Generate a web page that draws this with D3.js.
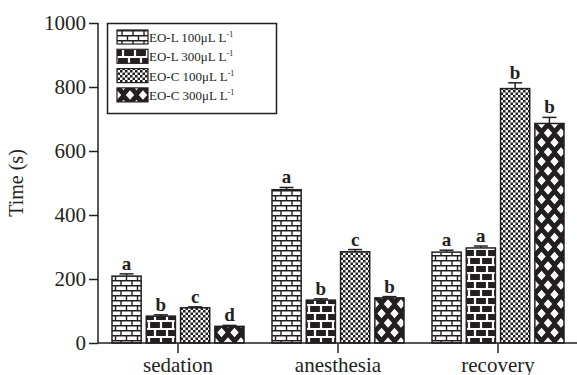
<!DOCTYPE html>
<html>
<head>
<meta charset="utf-8">
<script src="https://cdn.jsdelivr.net/npm/d3@7/dist/d3.min.js"></script>
<style>
  html, body { margin: 0; padding: 0; background: #fff; }
  svg { display: block; }
  text { font-family: "Liberation Serif", "Times New Roman", serif; fill: #231f20; }
</style>
</head>
<body>
<svg id="chart" width="577" height="375"></svg>
<script>
// Phases measured and treatments compared
const categories = ["sedation", "anesthesia", "recovery"];
const seriesNames = ["EO-L 100μL L", "EO-L 300μL L", "EO-C 100μL L", "EO-C 300μL L"];

// Mean time (s) per phase, one array per treatment
const eoL100 = [209, 479, 284];
const eoL300 = [84, 134, 297];
const eoC100 = [110, 285, 795];
const eoC300 = [52, 141, 686];

// Standard errors (upper whisker only)
const errL100 = [7, 7, 6];
const errL300 = [4, 4, 6];
const errC100 = [3, 7, 18];
const errC300 = [3, 4, 19];

// Significance letters
const letL100 = ["a", "a", "a"];
const letL300 = ["b", "b", "a"];
const letC100 = ["c", "c", "b"];
const letC300 = ["d", "b", "b"];

const yTicks = [0, 200, 400, 600, 800, 1000];

const series = [
  { name: seriesNames[0], values: eoL100, err: errL100, letters: letL100, fill: "url(#brickWhite)" },
  { name: seriesNames[1], values: eoL300, err: errL300, letters: letL300, fill: "url(#brickBlack)" },
  { name: seriesNames[2], values: eoC100, err: errC100, letters: letC100, fill: "url(#checker)" },
  { name: seriesNames[3], values: eoC300, err: errC300, letters: letC300, fill: "url(#lattice)" }
];

const ink = "#231f20";
const svg = d3.select("#chart");

// ---- fill patterns ----
const defs = svg.append("defs");

// white bricks, black mortar
const p1 = defs.append("pattern").attr("id", "brickWhite")
  .attr("patternUnits", "userSpaceOnUse").attr("width", 11).attr("height", 10);
p1.append("rect").attr("width", 11).attr("height", 10).attr("fill", "#fff");
p1.append("path").attr("stroke", ink).attr("stroke-width", 1.4).attr("fill", "none")
  .attr("d", "M0,0.7H11 M0,5.7H11 M1,0.7V5.7 M6.5,5.7V10.7");

// black bricks, white mortar
const p2 = defs.append("pattern").attr("id", "brickBlack")
  .attr("patternUnits", "userSpaceOnUse").attr("width", 12).attr("height", 16);
p2.append("rect").attr("width", 12).attr("height", 16).attr("fill", ink);
p2.append("path").attr("stroke", "#fff").attr("stroke-width", 2.2).attr("fill", "none")
  .attr("d", "M0,1H12 M0,9H12 M3,1V9 M9,9V17");

// fine checkerboard
const p3 = defs.append("pattern").attr("id", "checker")
  .attr("patternUnits", "userSpaceOnUse").attr("width", 5).attr("height", 5);
p3.append("rect").attr("width", 5).attr("height", 5).attr("fill", "#fff");
p3.append("rect").attr("width", 2.5).attr("height", 2.5).attr("fill", ink);
p3.append("rect").attr("x", 2.5).attr("y", 2.5).attr("width", 2.5).attr("height", 2.5).attr("fill", ink);

// black lattice with white diamonds
const p4 = defs.append("pattern").attr("id", "lattice")
  .attr("patternUnits", "userSpaceOnUse").attr("width", 13).attr("height", 19);
p4.append("rect").attr("width", 13).attr("height", 19).attr("fill", ink);
const diamond = (cx, cy) => `M${cx},${cy - 4.8}L${cx + 4.2},${cy}L${cx},${cy + 4.8}L${cx - 4.2},${cy}Z`;
p4.append("path").attr("fill", "#fff")
  .attr("d", [diamond(0, 0), diamond(13, 0), diamond(0, 19), diamond(13, 19), diamond(6.5, 9.5)].join(""));

// ---- scales ----
const x0 = d3.scaleBand().domain(categories).range([98, 578]);
const x1 = d3.scaleBand().domain(d3.range(series.length)).range([14, 146]).paddingInner(0.15);
const y = d3.scaleLinear().domain([0, 1000]).range([343, 23]);

// ---- bars ----
const groups = svg.append("g").selectAll("g").data(categories).join("g")
  .attr("transform", d => `translate(${x0(d)},0)`);

groups.each(function (cat, ci) {
  const g = d3.select(this);
  series.forEach((s, si) => {
    const v = s.values[ci], e = s.err[ci];
    const bx = x1(si), bw = x1.bandwidth();
    const cx = bx + bw / 2;
    g.append("rect")
      .attr("x", bx).attr("y", y(v))
      .attr("width", bw).attr("height", y(0) - y(v))
      .attr("fill", s.fill).attr("stroke", ink).attr("stroke-width", 1.5);
    // error whisker
    g.append("line").attr("x1", cx).attr("x2", cx).attr("y1", y(v)).attr("y2", y(v + e))
      .attr("stroke", ink).attr("stroke-width", 1.5);
    g.append("line").attr("x1", cx - 7).attr("x2", cx + 7).attr("y1", y(v + e)).attr("y2", y(v + e))
      .attr("stroke", ink).attr("stroke-width", 1.5);
    // letter
    g.append("text").attr("x", cx).attr("y", y(v + e) - 4)
      .attr("text-anchor", "middle").attr("font-size", 19).attr("font-weight", "bold")
      .text(s.letters[ci]);
  });
});

// ---- axes ----
const yAxis = svg.append("g").attr("transform", "translate(98,0)")
  .call(d3.axisLeft(y).tickValues(yTicks).tickSize(9).tickPadding(3).tickFormat(d3.format("d")));
yAxis.select(".domain").attr("stroke", ink).attr("stroke-width", 1.5).attr("d", "M0,23V343");
yAxis.selectAll(".tick line").attr("stroke", ink).attr("stroke-width", 1.5);
yAxis.selectAll(".tick text").attr("font-size", 21).attr("fill", ink);

const xAxis = svg.append("g").attr("transform", "translate(0,343)")
  .call(d3.axisBottom(x0).tickSize(10).tickPadding(4));
xAxis.select(".domain").attr("stroke", ink).attr("stroke-width", 1.5).attr("d", "M98,0H577");
xAxis.selectAll(".tick line").attr("stroke", ink).attr("stroke-width", 1.5);
xAxis.selectAll(".tick text").attr("font-size", 21).attr("fill", ink);

svg.append("text").attr("transform", "translate(23,183) rotate(-90)")
  .attr("text-anchor", "middle").attr("font-size", 20).text("Time (s)");

// ---- legend ----
const legend = svg.append("g");
legend.append("rect").attr("x", 107.5).attr("y", 23.5).attr("width", 169).attr("height", 90)
  .attr("fill", "#fff").attr("stroke", ink).attr("stroke-width", 1.5);
series.forEach((s, i) => {
  const ry = 30 + i * 19.3;
  legend.append("rect").attr("x", 117).attr("y", ry).attr("width", 31).attr("height", 14)
    .attr("fill", s.fill).attr("stroke", ink).attr("stroke-width", 1.2);
  const t = legend.append("text").attr("x", 149).attr("y", ry + 12).attr("font-size", 13);
  t.append("tspan").text(s.name);
  t.append("tspan").attr("font-size", 8).attr("dy", -5).text("-1");
});
</script>
</body>
</html>
